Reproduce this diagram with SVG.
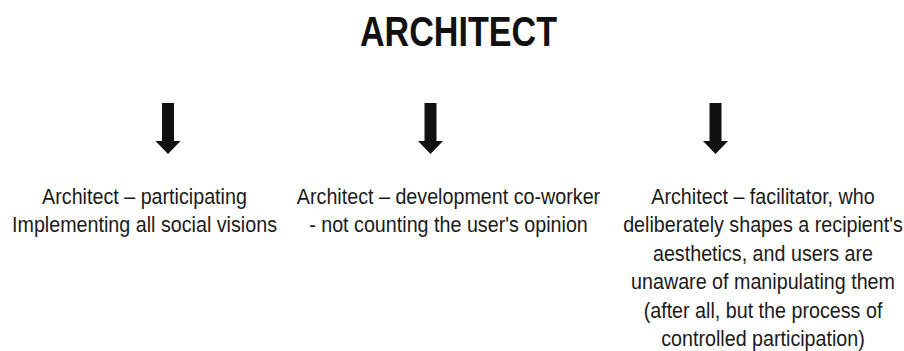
<svg xmlns="http://www.w3.org/2000/svg" width="904" height="351" viewBox="0 0 904 351">
<style>
.t{font-family:"Liberation Sans",Arial,sans-serif;font-size:22.5px;fill:#1a1a1a;text-anchor:middle}
.h{font-family:"Liberation Sans",Arial,sans-serif;font-size:42px;font-weight:bold;fill:#111}
.arr{fill:#111}
</style>
<rect width="904" height="351" fill="#fff"/>
<g id="title">
<text class="h" x="360" y="46" textLength="197" lengthAdjust="spacingAndGlyphs">ARCHITECT</text>
</g>
<g id="connectors">
<path class="arr" d="M162,103 H174 V141 H180.5 L168,154 L155.5,141 H162 Z"/>
<path class="arr" d="M424.5,103 H436.5 V141 H443 L430.5,154 L418,141 H424.5 Z"/>
<path class="arr" d="M709.5,103 H721.5 V141 H728 L715.5,154 L703,141 H709.5 Z"/>
</g>
<g id="node1">
<text class="t" transform="translate(144.5,204) scale(0.876,1)">Architect – participating</text>
<text class="t" transform="translate(144.5,232.4) scale(0.876,1)">Implementing all social visions</text>
</g>
<g id="node2">
<text class="t" transform="translate(448.5,204) scale(0.876,1)">Architect – development co-worker</text>
<text class="t" transform="translate(448.5,232.4) scale(0.876,1)">- not counting the user's opinion</text>
</g>
<g id="node3">
<text class="t" transform="translate(763,204) scale(0.876,1)">Architect – facilitator, who</text>
<text class="t" transform="translate(763,232.4) scale(0.876,1)">deliberately shapes a recipient's</text>
<text class="t" transform="translate(763,260.8) scale(0.876,1)">aesthetics, and users are</text>
<text class="t" transform="translate(763,289.2) scale(0.876,1)">unaware of manipulating them</text>
<text class="t" transform="translate(763,317.6) scale(0.876,1)">(after all, but the process of</text>
<text class="t" transform="translate(763,346) scale(0.876,1)">controlled participation)</text>
</g>
</svg>
